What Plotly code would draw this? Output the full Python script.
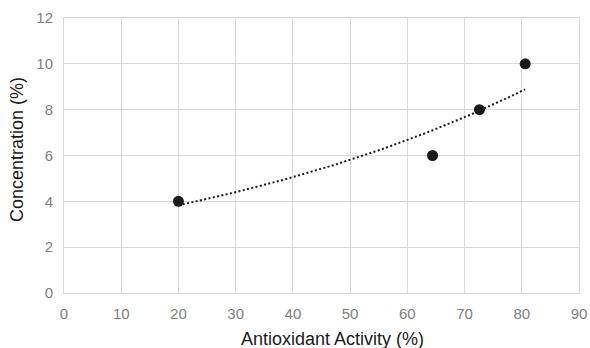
import numpy as np
import plotly.graph_objects as go

activity = [20.0, 64.4, 72.6, 80.6]
concentration = [4, 6, 8, 10]
x_ticks = [0, 10, 20, 30, 40, 50, 60, 70, 80, 90]
y_ticks = [0, 2, 4, 6, 8, 10, 12]
x_title = "Antioxidant Activity (%)"
y_title = "Concentration (%)"

# Exponential trendline (least squares on ln y)
b, ln_a = np.polyfit(activity, np.log(concentration), 1)
tx = np.linspace(min(activity), max(activity), 100)
ty = np.exp(ln_a) * np.exp(b * tx)

fig = go.Figure()
fig.add_trace(go.Scatter(x=tx, y=ty, mode="lines",
                         line=dict(color="#1a1a1a", width=2, dash="2px,2.4px"),
                         hoverinfo="skip", showlegend=False))
fig.add_trace(go.Scatter(x=activity, y=concentration, mode="markers",
                         marker=dict(color="#1a1a1a", size=11),
                         showlegend=False))

grid = "#d9d9d9"
W, H = 590, 348
L, R, T, B = 64, 11, 18, 55
pw, ph = W - L - R, H - T - B

def px(xp):
    return (xp - L) / pw

def py(yp):
    return (H - B - yp) / ph

fig.update_layout(
    width=W, height=H,
    margin=dict(l=L, r=R, t=T, b=B, autoexpand=False),
    plot_bgcolor="white", paper_bgcolor="white",
    font=dict(family="Liberation Sans, Arial, sans-serif"),
    xaxis=dict(range=[0, 90], tickvals=x_ticks, showgrid=True, gridcolor=grid, gridwidth=1,
               zeroline=False, showline=True, linecolor=grid, linewidth=1, mirror=True,
               tickfont=dict(size=15, color="#808080"), ticks="", automargin=False,
               ticklabeloverflow="allow", ticklabelstandoff=7),
    yaxis=dict(range=[0, 12], tickvals=y_ticks, showgrid=True, gridcolor=grid, gridwidth=1,
               zeroline=False, showline=True, linecolor=grid, linewidth=1, mirror=True,
               tickfont=dict(size=15, color="#808080"), ticks="", automargin=False,
               ticklabeloverflow="allow", ticklabelstandoff=7),
    annotations=[
        dict(text=x_title, xref="paper", yref="paper",
             x=px(332), y=py(339), xanchor="center", yanchor="middle",
             showarrow=False, font=dict(size=18, color="#1a1a1a")),
        dict(text=y_title, xref="paper", yref="paper", textangle=-90,
             x=px(17), y=py(150), xanchor="center", yanchor="middle",
             showarrow=False, font=dict(size=18, color="#1a1a1a")),
    ],
)
fig.write_html("out.html", config={"displayModeBar": False},
               post_script="document.body.style.margin='0';document.body.style.overflow='hidden';")
